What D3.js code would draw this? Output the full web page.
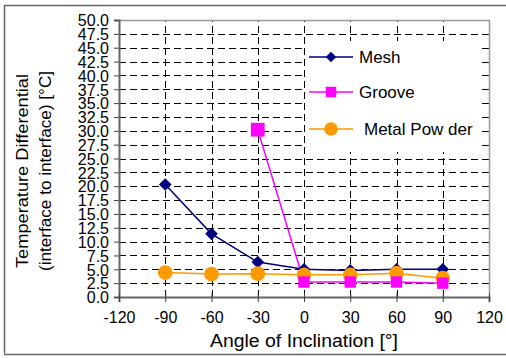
<!DOCTYPE html>
<html>
<head>
<meta charset="utf-8">
<script src="https://cdn.jsdelivr.net/npm/d3@7"></script>
<style>
  body { margin: 0; background: #fff; }
  svg { display: block; font-family: "Liberation Sans", Arial, sans-serif; }
</style>
</head>
<body>
<svg></svg>
<script>
const angles = [-90, -60, -30, 0, 30, 60, 90];
const meshValues = [20.3, 11.4, 6.3, 5.0, 4.8, 5.0, 5.0];
const grooveAngles = [-30, 0, 30, 60, 90];
const grooveValues = [30.2, 2.7, 2.7, 2.7, 2.5];
const powderValues = [4.4, 4.15, 4.2, 4.0, 4.0, 4.3, 3.4];
const xTicks = [-120, -90, -60, -30, 0, 30, 60, 90, 120];
const yTicks = d3.range(0, 50.1, 2.5);

const width = 506;
const height = 358;
const margin = { left: 119, right: 17, top: 20, bottom: 61 };

const svg = d3.select('svg')
  .attr('width', width)
  .attr('height', height);

// outer frame
svg.append('path')
  .attr('d', `M4.5,${height - 4.5} V5.5 H${width + 2}`)
  .attr('fill', 'none')
  .attr('stroke', '#666')
  .attr('stroke-width', 1.5);
svg.append('line')
  .attr('x1', 4).attr('x2', width)
  .attr('y1', 354.5).attr('y2', 354.5)
  .attr('stroke', '#666').attr('stroke-width', 1.5);

const x = d3.scaleLinear().domain([-120, 120]).range([margin.left, width - margin.right]);
const y = d3.scaleLinear().domain([0, 50]).range([height - margin.bottom, margin.top]);

// rotated-square diamond like the spreadsheet marker
const diamond = {
  draw(ctx, size) {
    const r = Math.sqrt(size / 2);
    ctx.moveTo(0, -r);
    ctx.lineTo(r, 0);
    ctx.lineTo(0, r);
    ctx.lineTo(-r, 0);
    ctx.closePath();
  }
};

// grid
const grid = svg.append('g');
grid.selectAll('line.h')
  .data(yTicks.slice(1))
  .enter().append('line')
    .attr('x1', x(-120)).attr('x2', x(120))
    .attr('y1', d => Math.round(y(d)) + 0.5).attr('y2', d => Math.round(y(d)) + 0.5)
    .attr('stroke', '#000').attr('stroke-dasharray', '7,4').attr('stroke-width', 1);
grid.selectAll('line.v')
  .data(xTicks.slice(1, -1))
  .enter().append('line')
    .attr('x1', d => Math.round(x(d)) + 0.5).attr('x2', d => Math.round(x(d)) + 0.5)
    .attr('y1', y(0)).attr('y2', y(50))
    .attr('stroke', '#000').attr('stroke-dasharray', '7,4').attr('stroke-width', 1);

// plot border top/right
svg.append('path')
  .attr('d', `M${x(-120)},${y(50) + 0.5} H${x(120) + 0.5} V${y(0)}`)
  .attr('fill', 'none').attr('stroke', '#999').attr('stroke-width', 1.5);

// legend background
svg.append('rect')
  .attr('x', 306).attr('y', 41).attr('width', 176).attr('height', 111)
  .attr('fill', '#fff');

// axes
const yAxis = svg.append('g')
  .attr('transform', `translate(${x(-120)},0)`)
  .call(d3.axisLeft(y).tickValues(yTicks).tickFormat(d3.format('.1f')).tickSize(5).tickPadding(5));
const xAxis = svg.append('g')
  .attr('transform', `translate(0,${y(0)})`)
  .call(d3.axisBottom(x).tickValues(xTicks).tickFormat(d => String(d)).tickSize(5).tickPadding(10));
xAxis.selectAll('.tick line').attr('y1', -4);
[xAxis, yAxis].forEach(a => {
  a.select('.domain').attr('stroke', '#666').attr('stroke-width', 2);
  a.selectAll('.tick line').attr('stroke', '#444');
  a.selectAll('text').attr('fill', '#000').style('font-size', '16px')
    .style('font-family', '"Liberation Sans", Arial, sans-serif');
});
yAxis.selectAll('text').attr('dy', '0.36em');

// axis titles
svg.append('text')
  .attr('x', 304).attr('y', 347)
  .attr('text-anchor', 'middle')
  .attr('textLength', 188)
  .attr('lengthAdjust', 'spacingAndGlyphs')
  .style('font-size', '17.5px')
  .text('Angle of Inclination [°]');
const yTitle = svg.append('text')
  .attr('transform', 'translate(28,171) rotate(-90)')
  .attr('text-anchor', 'middle')
  .style('font-size', '17px');
yTitle.append('tspan').attr('x', 0).attr('dy', 0)
  .attr('textLength', 194).attr('lengthAdjust', 'spacingAndGlyphs')
  .text('Temperature Differential');
yTitle.append('tspan').attr('x', 0).attr('dy', 23)
  .attr('textLength', 200).attr('lengthAdjust', 'spacingAndGlyphs')
  .text('(interface to interface) [°C]');

// series
const series = [
  { name: 'Mesh', xs: angles, ys: meshValues, color: '#000080', symbol: diamond, size: 80 },
  { name: 'Groove', xs: grooveAngles, ys: grooveValues, color: '#ff00ff', symbol: d3.symbolSquare, size: 130 },
  { name: 'Metal Pow der', xs: angles, ys: powderValues, color: '#ff9900', symbol: d3.symbolCircle, size: 170 }
];
const drawOrder = [0, 2, 1];
const line = d3.line().x(d => x(d[0])).y(d => y(d[1]));

drawOrder.map(i => series[i]).forEach(s => {
  const pts = s.xs.map((a, i) => [a, s.ys[i]]);
  svg.append('path')
    .datum(pts)
    .attr('d', line)
    .attr('fill', 'none')
    .attr('stroke', s.color)
    .attr('stroke-width', 1.5);
});
drawOrder.map(i => series[i]).forEach(s => {
  const pts = s.xs.map((a, i) => [a, s.ys[i]]);
  svg.append('g').selectAll('path')
    .data(pts)
    .enter().append('path')
      .attr('transform', d => `translate(${x(d[0])},${y(d[1])})`)
      .attr('d', (d, i) => d3.symbol().type(s.symbol).size(s.name === 'Groove' && i === 0 ? 190 : s.size)())
      .attr('fill', s.color);
});

// legend
const legendY = [57, 92, 129];
const legendTextX = [359, 359, 364];
series.forEach((s, i) => {
  const g = svg.append('g');
  g.append('line')
    .attr('x1', 309).attr('x2', 353)
    .attr('y1', legendY[i]).attr('y2', legendY[i])
    .attr('stroke', s.color).attr('stroke-width', 1.5);
  g.append('path')
    .attr('transform', `translate(331,${legendY[i]})`)
    .attr('d', d3.symbol().type(s.symbol).size(s.name === 'Groove' ? 110 : s.size - 25)())
    .attr('fill', s.color);
  g.append('text')
    .attr('x', legendTextX[i]).attr('y', legendY[i])
    .attr('dy', '0.36em')
    .style('font-size', '17px')
    .text(s.name);
});
</script>
</body>
</html>
